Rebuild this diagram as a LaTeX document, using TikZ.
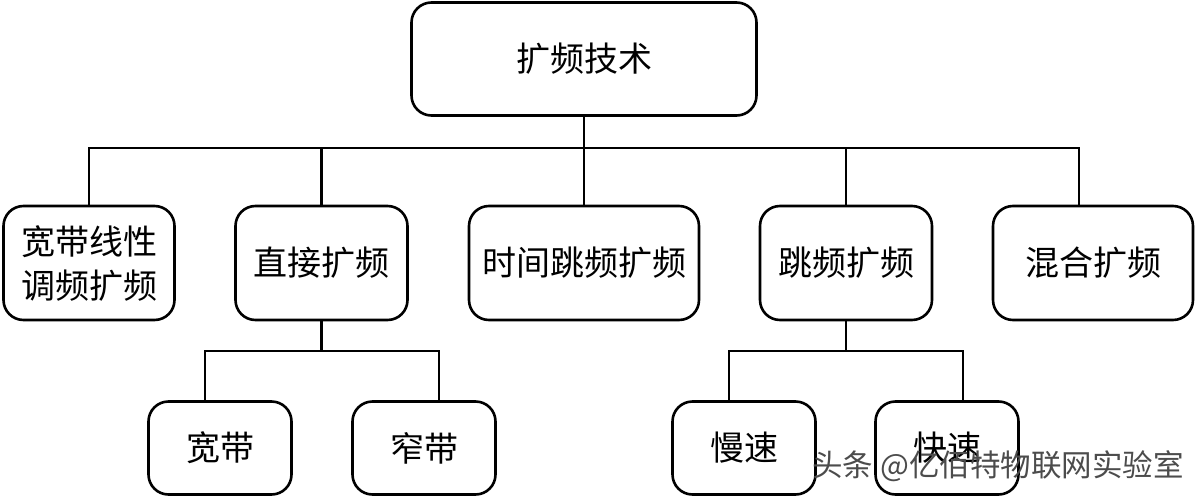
\documentclass[tikz,border=0pt]{standalone}
\usepackage{fontspec}
\newfontfamily\cjk{Noto Sans CJK SC}
\usetikzlibrary{positioning,calc}

\begin{document}
\begin{tikzpicture}[
    x=1pt, y=-1pt,
    box/.style={rectangle, draw, line width=2.6pt, rounded corners=20pt, align=center,
                inner sep=0pt, font=\cjk\fontsize{34}{44}\selectfont},
    topbox/.style={box, minimum width=345pt, minimum height=113pt},
    midbox/.style={box, minimum height=114pt},
    lowbox/.style={box, minimum width=143pt, minimum height=93pt},
    link/.style={line width=2.8pt}
]
    \useasboundingbox (0,0) rectangle (1200,498);

    \node[topbox] (root) at (584,59) {扩频技术};

    \node[midbox, minimum width=171pt] (lfm)    at (89,263)    {宽带线性\\调频扩频};
    \node[midbox, minimum width=172pt] (direct) at (321.5,263) {直接扩频};
    \node[midbox, minimum width=230pt] (thf)    at (584,263)   {时间跳频扩频};
    \node[midbox, minimum width=172pt] (fh)     at (846,263)   {跳频扩频};
    \node[midbox, minimum width=200pt] (hybrid) at (1093,263)  {混合扩频};

    \node[lowbox] (wide)   at (220,448) {宽带};
    \node[lowbox] (narrow) at (424,448) {窄带};
    \node[lowbox] (slow)   at (744,448) {慢速};
    \node[lowbox] (fast)   at (947,448) {快速};

    \coordinate (bus1) at (584,148);
    \coordinate (bus2) at (321.5,351);
    \coordinate (bus3) at (846,351);

    % first level
    \draw[link] (root.south) -- (bus1) -| (lfm.north);
    \draw[link] (bus1) -| (direct.north);
    \draw[link] (bus1) -- (thf.north);
    \draw[link] (bus1) -| (fh.north);
    \draw[link] (bus1) -| ([xshift=-14pt]hybrid.north);

    % second level
    \draw[link] (direct.south) -- (bus2) -| ([xshift=-15pt]wide.north);
    \draw[link] (bus2) -| ([xshift=15pt]narrow.north);
    \draw[link] (fh.south) -- (bus3) -| ([xshift=-15pt]slow.north);
    \draw[link] (bus3) -| ([xshift=16pt]fast.north);

    \node[font=\cjk\fontsize{30.5}{30}\selectfont, text=black!70] (mark) at (998,466) {头条 @亿佰特物联网实验室};
\end{tikzpicture}
\end{document}
